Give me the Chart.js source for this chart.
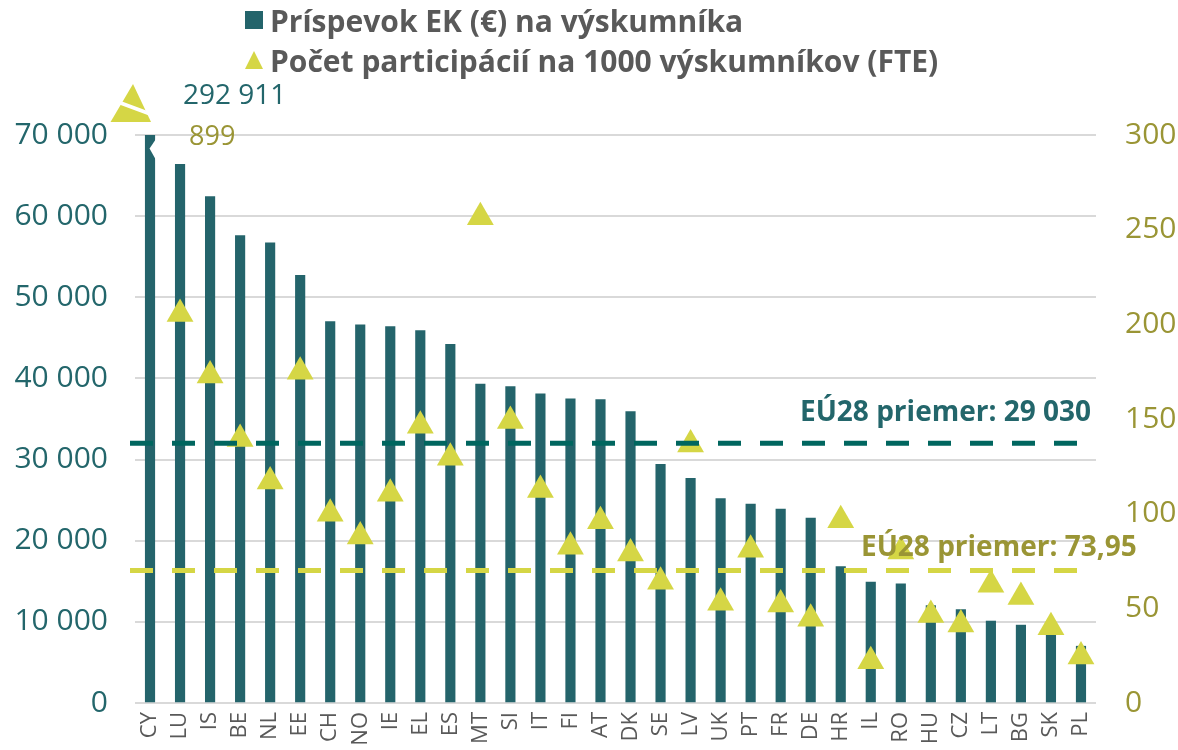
<!DOCTYPE html>
<html>
<head>
<meta charset="utf-8">
<script src="https://cdn.jsdelivr.net/npm/chart.js@4/dist/chart.umd.min.js"></script>
<style>
  html, body { margin: 0; padding: 0; background: #ffffff; }
  #wrap { position: relative; width: 1178px; height: 750px; overflow: hidden; }
  #chart { position: absolute; left: 0; top: 0; }
  .legend { position: absolute; left: 245px; font-family: "Open Sans", sans-serif; font-weight: 700; font-size: 30px; color: #595959; white-space: nowrap; }
  .legend .row { height: 40px; display: flex; align-items: center; }
  .legend .sq { width: 18px; height: 18px; background: #24646B; margin-right: 7px; }
  .legend .tri { width: 0; height: 0; border-left: 9px solid transparent; border-right: 9px solid transparent; border-bottom: 18px solid #D5D645; margin-right: 7px; }
</style>
</head>
<body>
<div id="wrap">
  <canvas id="chart" width="1178" height="750"></canvas>
  <div class="legend" style="top:0px;">
    <div class="row"><span class="sq"></span><span id="lg1"></span></div>
    <div class="row"><span class="tri"></span><span id="lg2"></span></div>
  </div>
</div>
<script>
// ---- data ----
const categories = ['CY','LU','IS','BE','NL','EE','CH','NO','IE','EL','ES','MT','SI','IT','FI','AT','DK','SE','LV','UK','PT','FR','DE','HR','IL','RO','HU','CZ','LT','BG','SK','PL'];
const contributionPerResearcher = [292911, 66400, 62400, 57600, 56700, 52700, 47000, 46600, 46400, 45900, 44200, 39300, 39000, 38100, 37500, 37400, 35900, 29400, 27700, 25200, 24500, 23900, 22800, 16800, 14900, 14700, 12000, 11500, 10100, 9600, 8800, 7000];
const participationsPer1000 = [899, 205.5, 173, 139.5, 117, 175, 100, 88, 110.5, 146.5, 129.5, 256.5, 149, 112.5, 82.5, 96, 79, 64, 136.5, 53, 81, 52, 44.5, 96.5, 22, 80, 46.5, 41.5, 62.5, 56, 40, 24.5];
const leftTicks = [0, 10000, 20000, 30000, 40000, 50000, 60000, 70000];
const rightTicks = [0, 50, 100, 150, 200, 250, 300];
const seriesNames = ['Príspevok EK (€) na výskumníka', 'Počet participácií na 1000 výskumníkov (FTE)'];
const eu28ContributionLine = 32000;      // position of the dashed line as drawn
const eu28ParticipationLine = 70;        // position of the dashed line as drawn
const eu28ContributionLabel = 'EÚ28 priemer: 29 030';
const eu28ParticipationLabel = 'EÚ28 priemer: 73,95';
const cyContributionLabel = '292 911';
const cyParticipationLabel = '899';

// ---- colours ----
const TEAL_BAR = '#24646B';
const TEAL_DASH = '#00665F';
const TEAL_TEXT = '#23666B';
const YELLOW = '#D5D645';
const OLIVE_TEXT = '#9A9535';
const GREY_TEXT = '#595959';
const FONT = '"Open Sans", sans-serif';

document.getElementById('lg1').textContent = seriesNames[0];
document.getElementById('lg2').textContent = seriesNames[1];

function fmtSpace(v) { return String(v).replace(/\B(?=(\d{3})+(?!\d))/g, ' '); }

const overlayPlugin = {
  id: 'overlay',
  afterDatasetsDraw(chart) {
    const { ctx, chartArea, scales } = chart;
    const x = scales.x, y = scales.y, y1 = scales.y1;
    const top = chartArea.top;
    ctx.save();
    // broken-bar notch on CY (off-scale bar)
    const cx = x.getPixelForValue(0);
    ctx.fillStyle = '#ffffff';
    ctx.beginPath();
    ctx.moveTo(cx + 6, top + 4);
    ctx.lineTo(cx - 0.5, top + 13.5);
    ctx.lineTo(cx + 6, top + 25);
    ctx.closePath();
    ctx.fill();
    // CY triangle (off-scale), drawn broken above the top edge
    ctx.fillStyle = YELLOW;
    ctx.beginPath();
    ctx.moveTo(cx - 17, top - 51);
    ctx.lineTo(cx + 1, top - 13);
    ctx.lineTo(cx - 39.5, top - 13);
    ctx.closePath();
    ctx.fill();
    ctx.strokeStyle = '#ffffff';
    ctx.lineWidth = 4;
    ctx.beginPath();
    ctx.moveTo(cx - 32, top - 33);
    ctx.lineTo(cx + 3, top - 20);
    ctx.stroke();

    // dashed average lines
    const x0 = chartArea.left - 5, x1 = chartArea.right - 19;
    ctx.setLineDash([23, 19]);
    ctx.lineWidth = 5;
    const yc = y.getPixelForValue(eu28ContributionLine);
    ctx.strokeStyle = TEAL_DASH;
    ctx.beginPath(); ctx.moveTo(x0, yc); ctx.lineTo(x1, yc); ctx.stroke();
    const yp = y1.getPixelForValue(eu28ParticipationLine);
    ctx.strokeStyle = YELLOW;
    ctx.beginPath(); ctx.moveTo(x0, yp); ctx.lineTo(x1, yp); ctx.stroke();
    ctx.setLineDash([]);

    // labels
    ctx.font = '700 28px ' + FONT;
    ctx.textBaseline = 'alphabetic';
    ctx.textAlign = 'right';
    ctx.fillStyle = TEAL_TEXT;
    ctx.fillText(eu28ContributionLabel, chartArea.right - 5, yc - 22);
    ctx.textAlign = 'left';
    ctx.fillStyle = OLIVE_TEXT;
    ctx.fillText(eu28ParticipationLabel, chartArea.right - 235, yp - 14);

    ctx.font = '400 28px ' + FONT;
    ctx.fillStyle = TEAL_TEXT;
    ctx.fillText(cyContributionLabel, cx + 33, top - 31);
    ctx.font = '400 27px ' + FONT;
    ctx.fillStyle = OLIVE_TEXT;
    ctx.fillText(cyParticipationLabel, cx + 39, top + 10);
    ctx.restore();
  }
};

new Chart(document.getElementById('chart'), {
  data: {
    labels: categories,
    datasets: [
      {
        type: 'line',
        label: seriesNames[1],
        data: participationsPer1000,
        yAxisID: 'y1',
        showLine: false,
        pointStyle: 'triangle',
        pointRadius: 15.5,
        pointHoverRadius: 15.5,
        pointBackgroundColor: YELLOW,
        pointBorderColor: YELLOW,
        pointBorderWidth: 0,
        order: 0
      },
      {
        type: 'bar',
        label: seriesNames[0],
        data: contributionPerResearcher,
        yAxisID: 'y',
        backgroundColor: TEAL_BAR,
        barThickness: 9.5,
        order: 1
      }
    ]
  },
  options: {
    responsive: false,
    animation: false,
    events: [],
    layout: { padding: { top: 135, left: 0, right: 0, bottom: 0 } },
    plugins: { legend: { display: false }, tooltip: { enabled: false } },
    scales: {
      x: {
        type: 'category',
        offset: true,
        grid: { display: false, drawTicks: false },
        border: { display: false },
        ticks: { color: GREY_TEXT, font: { family: FONT, size: 22 }, minRotation: 90, maxRotation: 90, padding: 9, autoSkip: false },
        afterFit(s) { s.height = 46; }
      },
      y: {
        position: 'left',
        min: 0, max: 70000,
        afterBuildTicks(s) { s.ticks = leftTicks.map(v => ({ value: v })); },
        grid: { color: '#D9D9D9', lineWidth: 2, drawTicks: false },
        border: { display: false },
        ticks: { color: TEAL_TEXT, font: { family: FONT, size: 30 }, padding: 27, callback: v => fmtSpace(v) },
        afterFit(s) { s.width = 135; }
      },
      y1: {
        position: 'right',
        min: 0, max: 300,
        afterBuildTicks(s) { s.ticks = rightTicks.map(v => ({ value: v })); },
        grid: { display: false, drawTicks: false },
        border: { display: false },
        ticks: { color: OLIVE_TEXT, font: { family: FONT, size: 30 }, padding: 29 },
        afterFit(s) { s.width = 82; }
      }
    }
  },
  plugins: [overlayPlugin]
});
</script>
</body>
</html>
